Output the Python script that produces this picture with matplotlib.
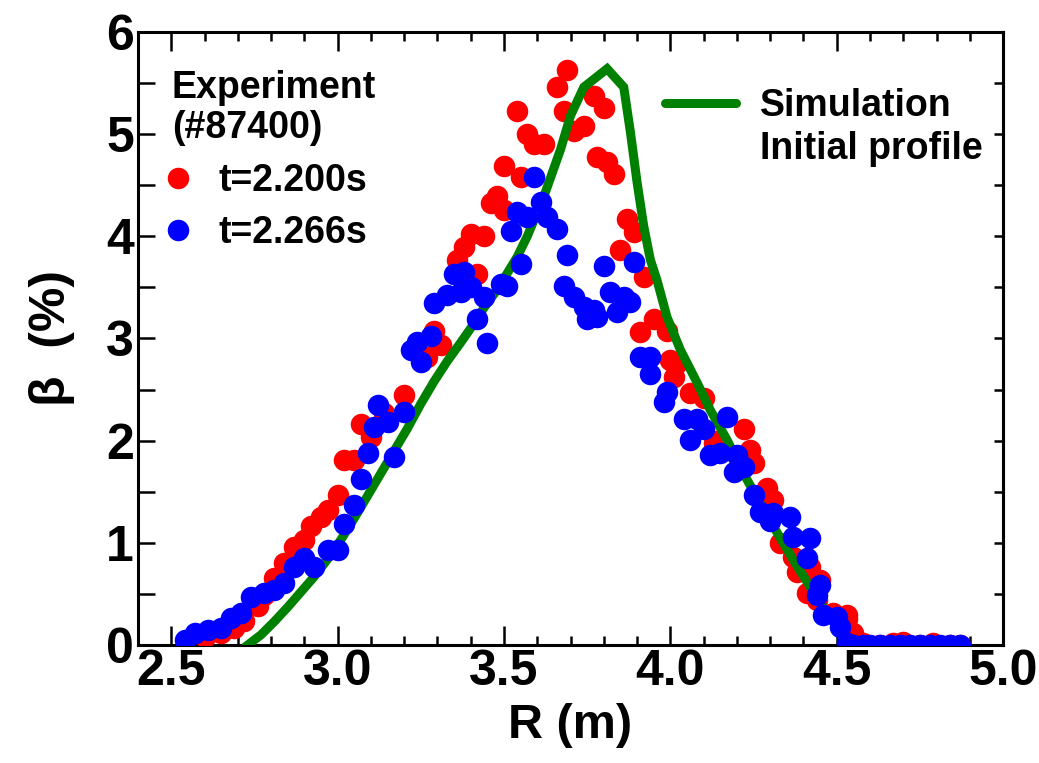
import matplotlib
matplotlib.use("Agg")
import matplotlib.pyplot as plt
from matplotlib.lines import Line2D
from matplotlib.ticker import MultipleLocator, FormatStrFormatter

plt.rcParams['font.family'] = ['Liberation Sans', 'DejaVu Sans']
plt.rcParams['font.weight'] = 'bold'

# Experiment t=2.200s
r_red = [2.60, 2.65, 2.69, 2.72, 2.76, 2.78, 2.81, 2.84, 2.87, 2.90, 2.92, 2.95, 2.97, 3.00,
         3.02, 3.05, 3.07, 3.10, 3.14, 3.20, 3.27, 3.29, 3.31, 3.36, 3.38, 3.40, 3.44, 3.42,
         3.46, 3.48, 3.50, 3.50, 3.54, 3.55, 3.57, 3.59, 3.62, 3.66, 3.68, 3.69, 3.71, 3.74,
         3.77, 3.78, 3.80, 3.81, 3.83, 3.87, 3.89, 3.85, 3.92, 3.91, 3.95, 3.99, 4.00, 4.01,
         4.02, 4.06, 4.10, 4.13, 4.14, 4.22, 4.24, 4.25, 4.29, 4.31, 4.33, 4.37, 4.38, 4.42,
         4.45, 4.41, 4.44, 4.49, 4.53, 4.53, 4.55, 4.58, 4.63, 4.67, 4.70, 4.75, 4.79, 4.84, 4.87]
b_red = [0.08, 0.12, 0.17, 0.23, 0.38, 0.49, 0.66, 0.80, 0.96, 1.03, 1.16, 1.25, 1.32, 1.47,
         1.81, 1.81, 2.16, 2.04, 2.27, 2.45, 2.82, 3.07, 2.94, 3.77, 3.90, 4.02, 4.00, 3.63,
         4.33, 4.39, 4.26, 4.69, 5.23, 4.58, 5.00, 4.90, 4.90, 5.46, 5.23, 5.63, 5.03, 5.08,
         5.37, 4.78, 5.26, 4.73, 4.61, 4.17, 4.04, 3.87, 3.60, 3.06, 3.19, 3.07, 2.79, 2.62,
         2.76, 2.47, 2.42, 1.98, 2.00, 2.11, 1.91, 1.78, 1.54, 1.42, 1.00, 0.86, 0.71, 0.76,
         0.64, 0.51, 0.44, 0.31, 0.29, 0.25, 0.12, 0.02, 0.0, 0.02, 0.03, 0.0, 0.02, 0.0, 0.0]

# Experiment t=2.266s
r_blue = [2.54, 2.57, 2.61, 2.65, 2.68, 2.71, 2.74, 2.78, 2.81, 2.84, 2.87, 2.90, 2.93, 2.97,
          3.00, 3.02, 3.05, 3.07, 3.09, 3.12, 3.11, 3.15, 3.17, 3.20, 3.22, 3.24, 3.25, 3.28,
          3.29, 3.33, 3.35, 3.38, 3.37, 3.40, 3.44, 3.42, 3.45, 3.49, 3.51, 3.52, 3.54, 3.55,
          3.57, 3.59, 3.61, 3.63, 3.66, 3.69, 3.68, 3.71, 3.74, 3.75, 3.77, 3.78, 3.80, 3.82,
          3.84, 3.86, 3.88, 3.89, 3.91, 3.94, 3.94, 3.98, 3.99, 4.04, 4.08, 4.06, 4.10, 4.12,
          4.15, 4.17, 4.20, 4.19, 4.22, 4.25, 4.27, 4.31, 4.30, 4.36, 4.37, 4.42, 4.41, 4.45,
          4.44, 4.46, 4.50, 4.51, 4.53, 4.55, 4.58, 4.60, 4.63, 4.66, 4.69, 4.72, 4.75, 4.78,
          4.81, 4.84, 4.87]
b_blue = [0.05, 0.12, 0.15, 0.17, 0.26, 0.31, 0.47, 0.51, 0.54, 0.61, 0.76, 0.85, 0.76, 0.93,
          0.93, 1.18, 1.37, 1.62, 1.88, 2.35, 2.13, 2.18, 1.84, 2.28, 2.89, 2.97, 2.77, 3.02,
          3.35, 3.43, 3.63, 3.65, 3.45, 3.50, 3.41, 3.19, 2.96, 3.53, 3.51, 4.05, 4.24, 3.73,
          4.19, 4.58, 4.34, 4.19, 4.07, 3.82, 3.51, 3.41, 3.31, 3.19, 3.28, 3.21, 3.71, 3.45,
          3.26, 3.41, 3.36, 3.75, 2.82, 2.82, 2.65, 2.38, 2.48, 2.21, 2.21, 2.01, 2.11, 1.86,
          1.88, 2.23, 1.86, 1.69, 1.74, 1.47, 1.30, 1.29, 1.21, 1.25, 1.06, 1.05, 0.85, 0.59,
          0.49, 0.29, 0.27, 0.18, 0.02, 0.0, 0.0, 0.0, 0.0, 0.0, 0.0, 0.0, 0.0, 0.0,
          0.0, 0.0, 0.0]

# Simulation initial profile
r_sim = [2.73, 2.77, 2.81, 2.85, 2.89, 2.93, 2.97, 3.01, 3.05, 3.09, 3.13, 3.17, 3.21, 3.25,
         3.29, 3.33, 3.37, 3.40, 3.44, 3.48, 3.54, 3.57, 3.62, 3.67, 3.70, 3.74, 3.81, 3.86,
         3.88, 3.90, 3.92, 3.94, 3.96, 3.99, 4.03, 4.08, 4.12, 4.17, 4.23, 4.31, 4.37, 4.42,
         4.46, 4.49, 4.52, 4.54]
b_sim = [0.00, 0.10, 0.23, 0.37, 0.52, 0.67, 0.84, 1.03, 1.24, 1.46, 1.68, 1.90, 2.12, 2.36,
         2.58, 2.78, 2.96, 3.10, 3.30, 3.48, 3.80, 4.00, 4.39, 4.85, 5.18, 5.46, 5.64, 5.46,
         5.02, 4.53, 4.10, 3.77, 3.57, 3.21, 2.89, 2.57, 2.30, 2.01, 1.62, 1.16, 0.83, 0.57,
         0.37, 0.25, 0.05, 0.00]

x_ticks = [2.5, 3.0, 3.5, 4.0, 4.5, 5.0]
y_ticks = [0, 1, 2, 3, 4, 5, 6]

fig = plt.figure(figsize=(10.39, 7.63), dpi=100)
ax = fig.add_axes([0.1328, 0.1547, 0.8326, 0.8034])

ms = 15.5
ax.plot(r_red, b_red, 'o', color='#ff0000', ms=ms, mec='none', zorder=3)
ax.plot(r_sim, b_sim, '-', color='#008000', lw=6.5, zorder=4, solid_joinstyle='miter')
ax.plot(r_blue, b_blue, 'o', color='#0000ff', ms=ms, mec='none', zorder=5)

ax.set_xlim(2.4, 5.0)
ax.set_ylim(0, 6)
ax.set_xticks(x_ticks)
ax.xaxis.set_minor_locator(MultipleLocator(0.1))
ax.set_yticks(y_ticks)
ax.yaxis.set_minor_locator(MultipleLocator(0.5))
ax.xaxis.set_major_formatter(FormatStrFormatter('%.1f'))

for s in ax.spines.values():
    s.set_linewidth(2.2)

ax.tick_params(axis='x', which='major', direction='in', top=True, bottom=True,
               length=13.5, width=1.8, labelsize=36, pad=3)
ax.tick_params(axis='x', which='minor', direction='in', top=True, bottom=True,
               length=6.5, width=1.8)
ax.tick_params(axis='y', which='both', direction='in', left=True, right=False,
               length=12.5, width=1.8, labelsize=36, pad=3)

sec = ax.secondary_yaxis('right')
sec.set_yticks([0.5 * i for i in range(13)])
sec.tick_params(axis='y', direction='in', length=6.5, width=1.8, labelright=False)
sec.spines['right'].set_linewidth(2.2)

for lbl in ax.get_xticklabels() + ax.get_yticklabels():
    lbl.set_fontweight('bold')

ax.set_xlabel('R (m)', fontsize=35, fontweight='bold', labelpad=6)
ax.set_ylabel('β  (%)', fontsize=36, fontweight='bold', labelpad=22)

# Legend: experiment
ax.text(0.039, 0.909, 'Experiment', transform=ax.transAxes, fontsize=27,
        fontweight='bold', va='center', ha='left')
ax.text(0.039, 0.843, '(#87400)', transform=ax.transAxes, fontsize=27,
        fontweight='bold', va='center', ha='left')
h_red = Line2D([], [], ls='none', marker='o', color='#ff0000', ms=ms, mec='none')
h_blue = Line2D([], [], ls='none', marker='o', color='#0000ff', ms=ms, mec='none')
leg1 = ax.legend([h_red, h_blue], ['t=2.200s', 't=2.266s'], loc='upper left',
                 bbox_to_anchor=(0.0289, 0.7866), frameon=False,
                 handlelength=0.8, handletextpad=0.67, labelspacing=0.43,
                 borderpad=0, borderaxespad=0, prop={'weight': 'bold', 'size': 27})
ax.add_artist(leg1)

h_sim = Line2D([], [], color='#008000', lw=6.5, solid_capstyle='round')
h_none = Line2D([], [], color='none', lw=0)
leg2 = ax.legend([h_sim, h_none], ['Simulation', 'Initial profile'], loc='upper left',
                 bbox_to_anchor=(0.6087, 0.908), frameon=False,
                 handlelength=1.9, handletextpad=0.65, labelspacing=0.18,
                 borderpad=0, borderaxespad=0, prop={'weight': 'bold', 'size': 27})

fig.savefig('out.png', dpi=100)
